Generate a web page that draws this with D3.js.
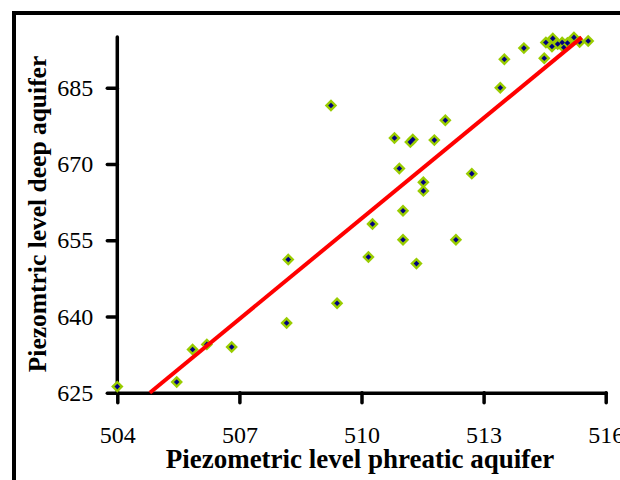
<!DOCTYPE html>
<html>
<head>
<meta charset="utf-8">
<script src="https://cdn.jsdelivr.net/npm/d3@7"></script>
<style>
  html, body { margin: 0; padding: 0; background: #fff; }
  svg { display: block; }
  text { font-family: "Liberation Serif", "Times New Roman", serif; fill: #000; }
</style>
</head>
<body>
<svg id="chart" width="620" height="480"></svg>
<script>
// ---- data ----
const phreatic = [504.0, 505.46, 505.85, 506.2, 506.81, 508.2, 508.16, 509.4, 509.25, 510.17,
  510.27, 511.02, 511.02, 511.35, 512.32, 511.52, 511.52, 510.93, 510.81, 511.2,
  511.26, 511.79, 512.06, 512.71, 513.41, 513.51, 513.99, 514.49, 514.53, 514.7,
  514.68, 514.82, 514.93, 514.97, 515.06, 515.22, 515.36, 515.57];
const deep = [626.2, 627.1, 633.5, 634.5, 634.0, 651.2, 638.7, 642.6, 681.5, 651.7,
  658.2, 660.8, 655.1, 650.4, 655.1, 666.4, 664.7, 669.1, 675.1, 674.3,
  674.8, 674.7, 678.6, 668.1, 685.0, 690.6, 692.8, 690.8, 693.9, 694.7,
  693.1, 693.6, 693.9, 692.9, 693.8, 694.9, 694.0, 694.2];
const fitX = [504.8, 515.41];
const fitY = [625, 694.9];
const xTicks = [504, 507, 510, 513, 516];
const yTicks = [625, 640, 655, 670, 685];
const xTitle = "Piezometric level phreatic aquifer";
const yTitle = "Piezomtric level deep aquifer";

// ---- layout ----
const svg = d3.select("#chart");
const x = d3.scaleLinear().domain([504, 516]).range([117.3, 605.7]);
const y = d3.scaleLinear().domain([625, 695]).range([392.7, 36.9]);

// outer frame (extends beyond the picture on right/bottom)
svg.append("rect")
  .attr("x", 14).attr("y", 13)
  .attr("width", 700).attr("height", 600)
  .attr("fill", "none").attr("stroke", "#000").attr("stroke-width", 4);

// axes
const xAxis = svg.append("g").attr("transform", `translate(0,${y(625)})`)
  .call(d3.axisBottom(x).tickValues(xTicks).tickSize(10).tickPadding(23).tickSizeOuter(0));
const yAxis = svg.append("g").attr("transform", `translate(${x(504)},0)`)
  .call(d3.axisLeft(y).tickValues(yTicks).tickSize(10).tickPadding(14).tickSizeOuter(0));

[xAxis, yAxis].forEach(g => {
  g.select(".domain").attr("stroke", "#000").attr("stroke-width", 3.5).attr("stroke-linecap", "round");
  g.selectAll(".tick line").attr("stroke", "#000").attr("stroke-width", 3.5).attr("stroke-linecap", "round");
  g.selectAll(".tick text").attr("font-family", "'Liberation Serif', 'Times New Roman', serif")
    .attr("font-size", 24).attr("fill", "#000");
});
yAxis.select(".domain").attr("d", `M0,${y(625)}V${y(695)}`);

// points
const pts = phreatic.map((v, i) => [v, deep[i]]);
const diamond = (cx, cy, r) => `M${cx},${cy - r}L${cx + r},${cy}L${cx},${cy + r}L${cx - r},${cy}Z`;
svg.append("g").selectAll("path.outer").data(pts).join("path")
  .attr("d", d => diamond(x(d[0]), y(d[1]), 6.2))
  .attr("fill", "#99CC00");
svg.append("g").selectAll("path.inner").data(pts).join("path")
  .attr("d", d => diamond(x(d[0]), y(d[1]), 2.8))
  .attr("fill", "#000080");

// regression line
svg.append("line")
  .attr("x1", x(fitX[0])).attr("y1", y(fitY[0]))
  .attr("x2", x(fitX[1])).attr("y2", y(fitY[1]))
  .attr("stroke", "#FF0000").attr("stroke-width", 4);

// titles
svg.append("text")
  .attr("x", 360).attr("y", 468)
  .attr("text-anchor", "middle")
  .attr("font-size", 27).attr("font-weight", "bold")
  .text(xTitle);
svg.append("text")
  .attr("transform", "translate(46,214) rotate(-90)")
  .attr("text-anchor", "middle")
  .attr("font-size", 25.5).attr("font-weight", "bold")
  .text(yTitle);
</script>
</body>
</html>
